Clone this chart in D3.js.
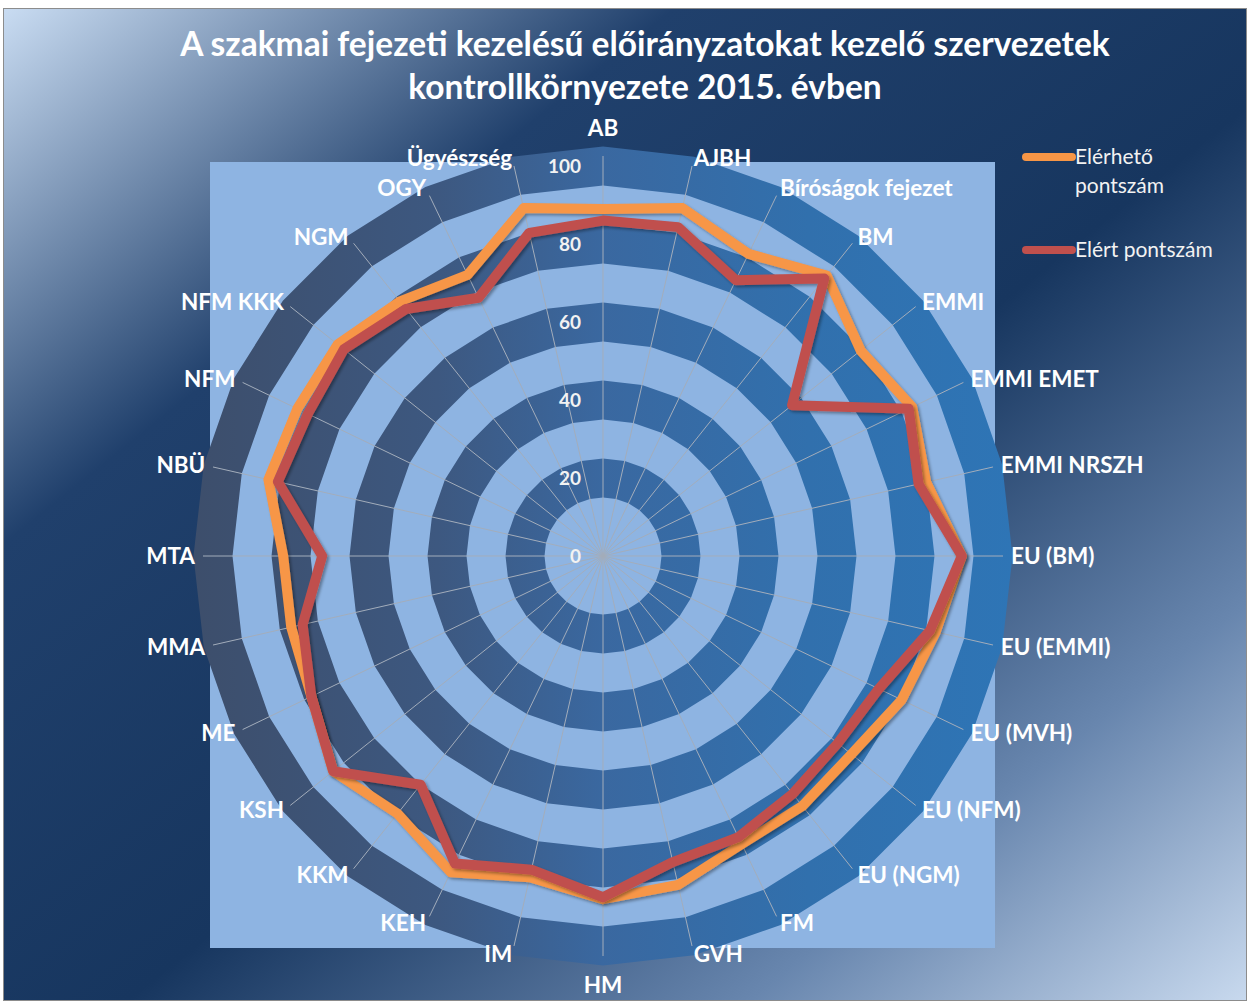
<!DOCTYPE html>
<html>
<head>
<meta charset="utf-8">
<script src="https://cdn.jsdelivr.net/npm/d3@7"></script>
<style>
  body { margin: 0; background: #ffffff; }
  svg { display: block; }
</style>
</head>
<body>
<div id="chart"></div>
<script>
// Categories go clockwise from the top.
const categories = [
  'AB', 'AJBH', 'Bíróságok fejezet', 'BM', 'EMMI', 'EMMI EMET', 'EMMI NRSZH',
  'EU (BM)', 'EU (EMMI)', 'EU (MVH)', 'EU (NFM)', 'EU (NGM)', 'FM', 'GVH',
  'HM', 'IM', 'KEH', 'KKM', 'KSH', 'ME', 'MMA', 'MTA', 'NBÜ', 'NFM',
  'NFM KKK', 'NGM', 'OGY', 'Ügyészség'
];

// Elérhető pontszám
const elerheto = [
  89, 91.5, 86, 92, 84.5, 88, 85,
  92, 87.5, 85, 81.5, 82, 82, 86.5,
  88, 84.5, 90, 84.5, 88.5, 83, 82, 82, 88, 87,
  87, 83.5, 80, 91.5
];

// Elért pontszám
const elert = [
  86, 86.5, 78.5, 91, 62, 87, 83,
  92, 86, 78.5, 77, 78, 80, 80.5,
  87.5, 82.5, 87.5, 75, 88.5, 83, 79, 72, 85.5, 84,
  85, 81, 73.5, 85
];

const ticks = [0, 20, 40, 60, 80, 100];
const bandCenters = [20, 40, 60, 80, 100];

const seriesNames = ['Elérhető pontszám', 'Elért pontszám'];
const titleLines = [
  'A szakmai fejezeti kezelésű előirányzatokat kezelő szervezetek',
  'kontrollkörnyezete 2015. évben'
];

const W = 1247, H = 1001;
const cx = 603, cy = 556;
const ORANGE = '#f79646', RED = '#c0504d';

const svg = d3.select('#chart').append('svg')
  .attr('width', W)
  .attr('height', H);

const defs = svg.append('defs');

// Background gradient of the chart area.
const bg = defs.append('linearGradient')
  .attr('id', 'bg')
  .attr('x1', 0).attr('y1', 0).attr('x2', 1).attr('y2', 1);
[['0', '#c9dcf2'], ['0.27', '#20406c'], ['0.55', '#17365f'],
 ['0.8', '#6886ae'], ['1', '#c8d9ee']].forEach(s => {
  bg.append('stop').attr('offset', s[0]).attr('stop-color', s[1]);
});

// Ring colour goes from slate on the left to blue on the right
// (coordinates are relative to the chart centre).
const rg = defs.append('linearGradient')
  .attr('id', 'ring')
  .attr('gradientUnits', 'userSpaceOnUse')
  .attr('x1', -413).attr('y1', 0).attr('x2', 412).attr('y2', 0);
[['0', '#3d4e6b'], ['0.3', '#3d5880'], ['0.5', '#3a68a0'],
 ['0.75', '#3170ad'], ['1', '#2e75b6']].forEach(s => {
  rg.append('stop').attr('offset', s[0]).attr('stop-color', s[1]);
});

const shadow = defs.append('filter')
  .attr('id', 'shadow')
  .attr('x', '-10%').attr('y', '-10%').attr('width', '120%').attr('height', '120%');
shadow.append('feDropShadow')
  .attr('dx', 2).attr('dy', 2).attr('stdDeviation', 1.5)
  .attr('flood-color', '#000').attr('flood-opacity', 0.35);

svg.append('rect')
  .attr('x', 3.5).attr('y', 8.5)
  .attr('width', W - 4).attr('height', H - 9)
  .attr('fill', 'url(#bg)')
  .attr('stroke', '#8c8c8c');

// Plot area
svg.append('rect')
  .attr('x', 210).attr('y', 162)
  .attr('width', 785).attr('height', 786)
  .attr('fill', '#8eb4e2');

const r = d3.scaleLinear().domain([0, 100]).range([0, 390]);
const angle = d3.scaleLinear().domain([0, categories.length]).range([0, 2 * Math.PI]);

const g = svg.append('g').attr('transform', `translate(${cx},${cy})`);

function polygon(v) {
  return d3.lineRadial()
    .angle((d, i) => angle(i))
    .radius(r(v))
    .curve(d3.curveLinearClosed)(categories);
}

// Dark bands, 10 units wide around each major value.
g.append('g')
  .selectAll('path')
  .data(bandCenters)
  .join('path')
  .attr('d', d => polygon(d + 5) + polygon(d - 5))
  .attr('fill-rule', 'evenodd')
  .attr('fill', 'url(#ring)');

// Spokes
g.append('g')
  .selectAll('line')
  .data(categories)
  .join('line')
  .attr('x1', 0).attr('y1', 0)
  .attr('x2', (d, i) => 400 * Math.sin(angle(i)))
  .attr('y2', (d, i) => -400 * Math.cos(angle(i)))
  .attr('stroke', '#a3adbb')
  .attr('stroke-width', 1);

// Value labels along the top spoke
g.append('g')
  .selectAll('text')
  .data(ticks)
  .join('text')
  .attr('x', -22)
  .attr('y', d => -r(d))
  .attr('dy', '0.35em')
  .attr('text-anchor', 'end')
  .attr('font-family', 'Lato, sans-serif')
  .attr('font-weight', 'bold')
  .attr('font-size', 19)
  .attr('fill', '#f2f2f2')
  .text(d => d);

// Series
const line = d3.lineRadial()
  .angle((d, i) => angle(i))
  .radius(d => r(d))
  .curve(d3.curveLinearClosed);

[[elerheto, ORANGE], [elert, RED]].forEach(([vals, col]) => {
  g.append('path')
    .attr('d', line(vals))
    .attr('fill', 'none')
    .attr('stroke', col)
    .attr('stroke-width', 10)
    .attr('stroke-linejoin', 'round')
    .attr('filter', 'url(#shadow)');
});

// Category labels
const LR = 408;
g.append('g')
  .selectAll('text')
  .data(categories)
  .join('text')
  .attr('x', (d, i) => LR * Math.sin(angle(i)))
  .attr('y', (d, i) => {
    const c = Math.cos(angle(i));
    let y = -LR * c;
    if (Math.abs(Math.sin(angle(i))) < 0.05) y += c > 0 ? -20 : 21;
    return y;
  })
  .attr('dy', '0.35em')
  .attr('text-anchor', (d, i) => {
    const s = Math.sin(angle(i));
    return s > 0.05 ? 'start' : s < -0.05 ? 'end' : 'middle';
  })
  .attr('font-family', 'Lato, sans-serif')
  .attr('font-weight', 'bold')
  .attr('font-size', 22.5)
  .attr('fill', '#ffffff')
  .text(d => d);

// Title
svg.append('g')
  .selectAll('text')
  .data(titleLines)
  .join('text')
  .attr('x', 645)
  .attr('y', (d, i) => 56 + i * 43)
  .attr('text-anchor', 'middle')
  .attr('font-family', 'Lato, sans-serif')
  .attr('font-weight', 'bold')
  .attr('font-size', 33.5)
  .attr('fill', '#ffffff')
  .text(d => d);

// Legend
const legend = svg.append('g').attr('transform', 'translate(1022, 157)');
const legendItems = [
  {name: seriesNames[0], color: ORANGE, lines: ['Elérhető', 'pontszám'], y: 0},
  {name: seriesNames[1], color: RED, lines: ['Elért pontszám'], y: 93}
];
legendItems.forEach(it => {
  legend.append('line')
    .attr('x1', 4).attr('x2', 50)
    .attr('y1', it.y).attr('y2', it.y)
    .attr('stroke', it.color)
    .attr('stroke-width', 8)
    .attr('stroke-linecap', 'round');
  it.lines.forEach((t, j) => {
    legend.append('text')
      .attr('x', 53)
      .attr('y', it.y + j * 29)
      .attr('dy', '0.35em')
      .attr('font-family', 'Lato, sans-serif')
      .attr('font-size', 21)
      .attr('fill', '#f2f2f2')
      .text(t);
  });
});
</script>
</body>
</html>
